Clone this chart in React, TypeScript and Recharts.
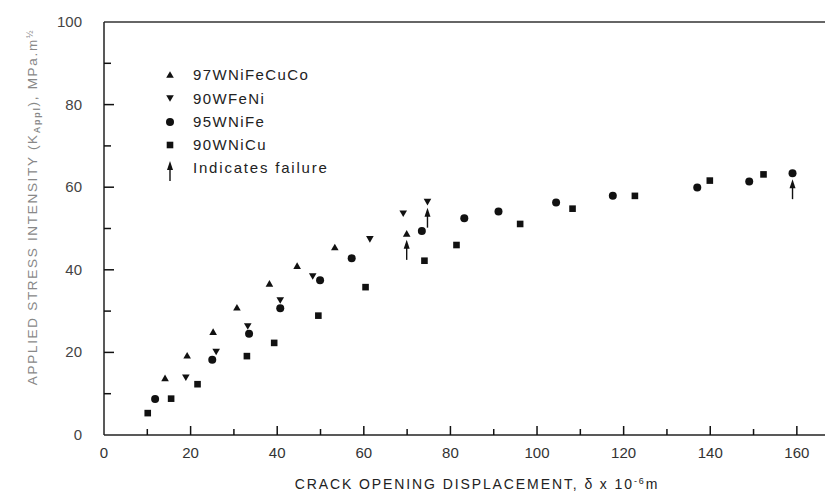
import React from "react";
import { ScatterChart, Scatter, XAxis, YAxis, ReferenceLine } from "recharts";

// 97WNiFeCuCo
const alloy97WNiFeCuCo = [
  { x: 14.1, y: 13.7 }, { x: 19.2, y: 19.2 }, { x: 25.2, y: 24.9 }, { x: 30.7, y: 30.8 },
  { x: 38.2, y: 36.6 }, { x: 44.6, y: 40.9 }, { x: 53.3, y: 45.4 }, { x: 69.9, y: 48.7 },
];
// 90WFeNi
const alloy90WFeNi = [
  { x: 18.9, y: 14.0 }, { x: 25.9, y: 20.2 }, { x: 33.2, y: 26.4 }, { x: 40.7, y: 32.7 },
  { x: 48.2, y: 38.5 }, { x: 61.4, y: 47.5 }, { x: 69.1, y: 53.7 }, { x: 74.7, y: 56.5 },
];
// 95WNiFe
const alloy95WNiFe = [
  { x: 11.8, y: 8.7 }, { x: 25.0, y: 18.2 }, { x: 33.5, y: 24.5 }, { x: 40.7, y: 30.7 },
  { x: 49.9, y: 37.5 }, { x: 57.2, y: 42.8 }, { x: 73.4, y: 49.4 }, { x: 83.2, y: 52.5 },
  { x: 91.1, y: 54.1 }, { x: 104.4, y: 56.3 }, { x: 117.5, y: 57.9 }, { x: 137.0, y: 59.9 },
  { x: 149.0, y: 61.4 }, { x: 159.0, y: 63.4 },
];
// 90WNiCu
const alloy90WNiCu = [
  { x: 10.1, y: 5.3 }, { x: 15.5, y: 8.8 }, { x: 21.6, y: 12.3 }, { x: 33.0, y: 19.1 },
  { x: 39.3, y: 22.3 }, { x: 49.5, y: 28.9 }, { x: 60.4, y: 35.8 }, { x: 74.0, y: 42.2 },
  { x: 81.4, y: 46.0 }, { x: 96.1, y: 51.1 }, { x: 108.2, y: 54.8 }, { x: 122.6, y: 57.9 },
  { x: 139.9, y: 61.6 }, { x: 152.3, y: 63.1 },
];
// points marked with a failure arrow
const failures = [
  { x: 69.9, y: 48.7 }, { x: 74.7, y: 56.5 }, { x: 159.0, y: 63.4 },
];

const xTicks = [0, 10, 20, 30, 40, 50, 60, 70, 80, 90, 100, 110, 120, 130, 140, 150, 160];
const yTicks = [0, 10, 20, 30, 40, 50, 60, 70, 80, 90, 100];

const FONT = "'Liberation Sans', Arial, sans-serif";
const INK = "#111";

const UpTri = ({ cx, cy }: any) => (
  <polygon points={`${cx},${cy - 3.8} ${cx - 3.8},${cy + 2.8} ${cx + 3.8},${cy + 2.8}`} fill={INK} />
);
const DownTri = ({ cx, cy }: any) => (
  <polygon points={`${cx},${cy + 3.8} ${cx - 3.8},${cy - 2.8} ${cx + 3.8},${cy - 2.8}`} fill={INK} />
);
const Dot = ({ cx, cy }: any) => <circle cx={cx} cy={cy} r={4} fill={INK} />;
const Sq = ({ cx, cy }: any) => <rect x={cx - 3.3} y={cy - 3.3} width={6.6} height={6.6} fill={INK} />;
const Arrow = ({ cx, cy }: any) => (
  <g>
    <line x1={cx} y1={cy + 26} x2={cx} y2={cy + 12} stroke={INK} strokeWidth={1.4} />
    <polygon points={`${cx},${cy + 6} ${cx - 3},${cy + 15} ${cx + 3},${cy + 15}`} fill={INK} />
  </g>
);

// ticks point into the plot; labels only every 20
const XTick = ({ x, y, payload }: any) => {
  const major = payload.value % 20 === 0;
  return (
    <g>
      {payload.value > 0 && (
        <line x1={x} y1={y} x2={x} y2={y - (major ? 9 : 6)} stroke="#111" strokeWidth={1.5} />
      )}
      {major && (
        <text x={x} y={y + 23} textAnchor="middle" fontSize={15} fill="#333" fontFamily={FONT}>
          {payload.value}
        </text>
      )}
    </g>
  );
};

const YTick = ({ x, y, payload }: any) => {
  const major = payload.value % 20 === 0;
  return (
    <g>
      {payload.value > 0 && payload.value < 100 && (
        <line x1={x} y1={y} x2={x + (major ? 10 : 7)} y2={y} stroke="#111" strokeWidth={1.5} />
      )}
      {major && (
        <text x={x - 22} y={y + 5} textAnchor="end" fontSize={15} fill="#444" fontFamily={FONT}>
          {payload.value}
        </text>
      )}
    </g>
  );
};

export default function App() {
  return (
    <div style={{ position: "absolute", left: 0, top: 0, width: 825, height: 499, background: "#fff" }}>
      <ScatterChart width={825} height={499} margin={{ top: 22, right: 0, bottom: 0, left: 0 }}>
        <XAxis
          type="number"
          dataKey="x"
          domain={[0, 166.5]}
          ticks={xTicks}
          interval={0}
          tick={<XTick />}
          tickLine={false}
          tickSize={0}
          tickMargin={0}
          height={64}
          axisLine={{ stroke: "#222", strokeWidth: 1.5 }}
        />
        <YAxis
          type="number"
          dataKey="y"
          domain={[0, 100]}
          ticks={yTicks}
          interval={0}
          tick={<YTick />}
          tickLine={false}
          tickSize={0}
          tickMargin={0}
          width={104}
          axisLine={{ stroke: "#222", strokeWidth: 1.5 }}
        />
        <ReferenceLine y={100} stroke="#333" strokeWidth={1.5} />
        <Scatter data={alloy97WNiFeCuCo} shape={UpTri} isAnimationActive={false} />
        <Scatter data={alloy90WFeNi} shape={DownTri} isAnimationActive={false} />
        <Scatter data={alloy95WNiFe} shape={Dot} isAnimationActive={false} />
        <Scatter data={alloy90WNiCu} shape={Sq} isAnimationActive={false} />
        <Scatter data={failures} shape={Arrow} isAnimationActive={false} />
      </ScatterChart>
      <svg width={825} height={499} style={{ position: "absolute", left: 0, top: 0, pointerEvents: "none" }}>
        {/* legend */}
        <UpTri cx={170} cy={75} />
        <DownTri cx={170} cy={98} />
        <Dot cx={170} cy={122} />
        <Sq cx={170} cy={145} />
        <Arrow cx={170} cy={155} />
        <g fontFamily={FONT} fontSize={15} fill="#222" letterSpacing={1.4}>
          <text x={193} y={80}>97WNiFeCuCo</text>
          <text x={193} y={104}>90WFeNi</text>
          <text x={193} y={127}>95WNiFe</text>
          <text x={193} y={150}>90WNiCu</text>
          <text x={193} y={173} letterSpacing={1.8}>Indicates failure</text>
        </g>
        {/* axis titles */}
        <text x={477} y={489} textAnchor="middle" fontFamily={FONT} fontSize={14} fill="#222" letterSpacing={1.9}>
          CRACK OPENING DISPLACEMENT, δ x 10<tspan dy={-5} fontSize={9}>-6</tspan>
          <tspan dy={5}>m</tspan>
        </text>
        <text
          transform="translate(37,207) rotate(-90)"
          textAnchor="middle"
          fontFamily={FONT}
          fontSize={13.5}
          fill="#888"
          letterSpacing={1.7}
        >
          APPLIED STRESS INTENSITY (K<tspan dy={3} fontSize={9} fontWeight="bold">Appl</tspan>
          <tspan dy={-3}>), MPa.m</tspan>
          <tspan dy={-4} fontSize={9}>½</tspan>
        </text>
      </svg>
    </div>
  );
}
